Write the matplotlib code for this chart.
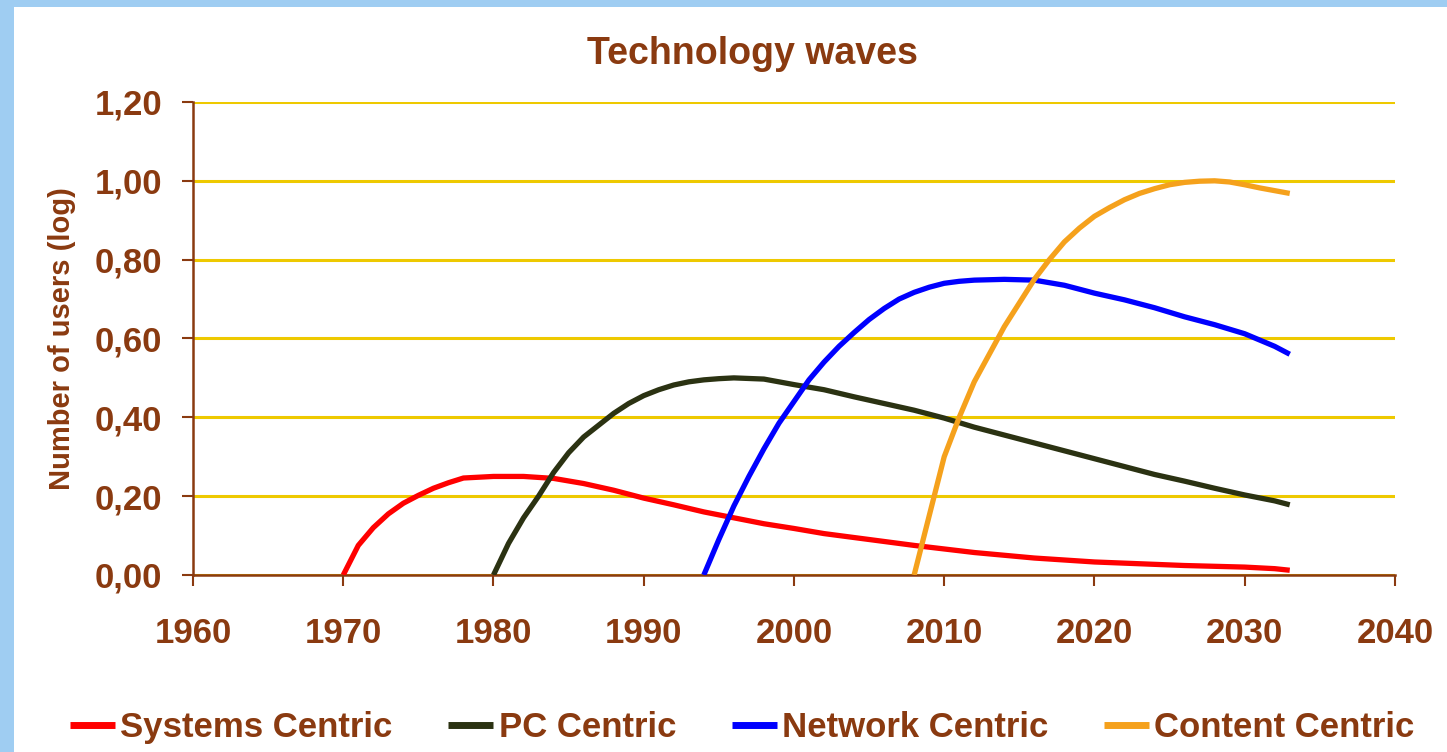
import matplotlib
matplotlib.use('Agg')
import matplotlib.pyplot as plt
from matplotlib.patches import Rectangle
from matplotlib.ticker import FuncFormatter

# Data
years_sys = [1970, 1971, 1972, 1973, 1974, 1975, 1976, 1977, 1978, 1980, 1982,
             1984, 1986, 1988, 1990, 1992, 1994, 1996, 1998, 2000, 2002, 2004,
             2006, 2008, 2010, 2012, 2014, 2016, 2018, 2020, 2022, 2024, 2026,
             2028, 2030, 2032, 2033]
vals_sys = [0, 0.075, 0.12, 0.155, 0.182, 0.202, 0.22, 0.234, 0.246, 0.25, 0.25,
            0.245, 0.232, 0.215, 0.195, 0.178, 0.16, 0.145, 0.13, 0.118, 0.105,
            0.095, 0.085, 0.075, 0.066, 0.057, 0.05, 0.043, 0.038, 0.033, 0.03,
            0.027, 0.024, 0.022, 0.02, 0.016, 0.012]

years_pc = [1980, 1981, 1982, 1983, 1984, 1985, 1986, 1987, 1988, 1989, 1990,
            1991, 1992, 1993, 1994, 1995, 1996, 1998, 2000, 2002, 2004, 2006,
            2008, 2010, 2012, 2014, 2016, 2018, 2020, 2022, 2024, 2026, 2028,
            2030, 2032, 2033]
vals_pc = [0, 0.08, 0.145, 0.2, 0.26, 0.31, 0.35, 0.38, 0.41, 0.435, 0.455,
           0.47, 0.482, 0.49, 0.495, 0.498, 0.5, 0.497, 0.483, 0.47, 0.452,
           0.435, 0.418, 0.398, 0.375, 0.355, 0.335, 0.315, 0.295, 0.275,
           0.255, 0.238, 0.22, 0.203, 0.188, 0.178]

years_net = [1994, 1995, 1996, 1997, 1998, 1999, 2000, 2001, 2002, 2003, 2004,
             2005, 2006, 2007, 2008, 2009, 2010, 2011, 2012, 2014, 2016, 2018,
             2020, 2022, 2024, 2026, 2028, 2030, 2032, 2033]
vals_net = [0, 0.09, 0.175, 0.25, 0.32, 0.385, 0.44, 0.495, 0.54, 0.58, 0.615,
            0.648, 0.676, 0.7, 0.717, 0.73, 0.74, 0.745, 0.748, 0.75, 0.748,
            0.735, 0.715, 0.698, 0.678, 0.655, 0.635, 0.612, 0.58, 0.56]

years_cont = [2008, 2009, 2010, 2011, 2012, 2013, 2014, 2015, 2016, 2017, 2018,
              2019, 2020, 2021, 2022, 2023, 2024, 2025, 2026, 2027, 2028, 2029,
              2030, 2031, 2032, 2033]
vals_cont = [0, 0.15, 0.3, 0.4, 0.49, 0.56, 0.63, 0.69, 0.75, 0.8, 0.845,
             0.88, 0.91, 0.932, 0.952, 0.968, 0.98, 0.99, 0.996, 0.999, 1.0,
             0.997, 0.99, 0.982, 0.975, 0.968]

labels = ['Systems Centric', 'PC Centric', 'Network Centric', 'Content Centric']
colors = ['#ff0000', '#2b3212', '#0000ff', '#f5a11c']

brown = '#8a3a10'
grid_gold = '#eec900'

matplotlib.rc('font', family=['Liberation Sans', 'DejaVu Sans'])
matplotlib.rc('font', weight='bold')

fig = plt.figure(figsize=(14.47, 7.52), dpi=100)
fig.patch.set_facecolor('#9fcdf2')
fig.patches.append(Rectangle((14 / 1447, 0), 1, 1 - 7 / 752,
                             transform=fig.transFigure, facecolor='white',
                             edgecolor='none', zorder=-10))

ax = fig.add_axes([0.1334, 0.2354, 0.964 - 0.1334, 0.8644 - 0.2354])
ax.set_facecolor('white')

series = [(years_sys, vals_sys), (years_pc, vals_pc),
          (years_net, vals_net), (years_cont, vals_cont)]
for (xs, ys), lab, col in zip(series, labels, colors):
    ax.plot(xs, ys, color=col, lw=3.8, label=lab, solid_capstyle='butt',
            solid_joinstyle='round', zorder=3)

ax.set_xlim(1960, 2040)
ax.set_ylim(0, 1.2)
ax.set_xticks(range(1960, 2041, 10))
ax.set_yticks([0, 0.2, 0.4, 0.6, 0.8, 1.0, 1.2])
ax.yaxis.set_major_formatter(
    FuncFormatter(lambda v, p: '{:.2f}'.format(v).replace('.', ',')))

ax.yaxis.grid(True, color=grid_gold, lw=2.2)
ax.set_axisbelow(True)

for s in ['top', 'right']:
    ax.spines[s].set_visible(False)
for s in ['left', 'bottom']:
    ax.spines[s].set_color(brown)
    ax.spines[s].set_linewidth(1.8)

ax.tick_params(axis='both', colors=brown, labelsize=25, width=1.5, length=8)
ax.tick_params(axis='x', pad=22)
ax.tick_params(axis='y', pad=14)
for t in ax.get_xticklabels() + ax.get_yticklabels():
    t.set_fontweight('bold')
    t.set_color(brown)

ax.set_ylabel('Number of users (log)', color=brown, fontsize=21,
              fontweight='bold')
ax.yaxis.set_label_coords(-0.097, 0.5)
fig.text(0.52, 0.928, 'Technology waves', color=brown, fontsize=27,
         fontweight='bold', ha='center', va='center')

leg = fig.legend(loc='center', bbox_to_anchor=(0.513, 0.032), ncol=4,
                 frameon=False, prop={'size': 25, 'weight': 'bold'},
                 handlelength=1.3, handletextpad=0.15, columnspacing=1.6)
for t in leg.get_texts():
    t.set_color(brown)
for h in leg.get_lines():
    h.set_linewidth(5)

fig.savefig('out.png', dpi=100, facecolor=fig.get_facecolor())
